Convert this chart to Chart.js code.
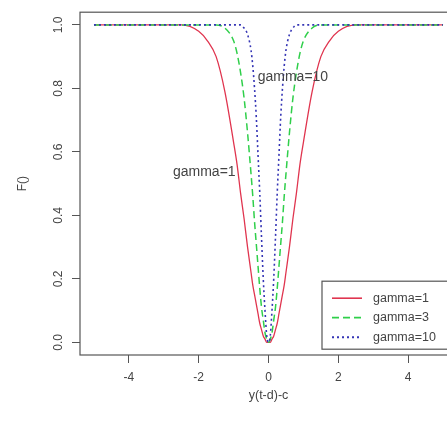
<!DOCTYPE html>
<html>
<head>
<meta charset="utf-8">
<script src="https://cdn.jsdelivr.net/npm/chart.js@4.4.0/dist/chart.umd.min.js"></script>
<style>
    html, body { margin: 0; padding: 0; background: #fff; overflow: hidden; }
    #wrap { position: relative; width: 470px; height: 427px; }
</style>
</head>
<body>
<div id="wrap"><canvas id="chart"></canvas></div>
<script>
// values
const xValues = [-5, -4, -3, -2.5, -2, -1.75, -1.5, -1.25, -1, -0.9, -0.8, -0.7, -0.6, -0.5, -0.45, -0.4, -0.35, -0.3, -0.25, -0.2, -0.15, -0.1, -0.05, 0,
                 0.05, 0.1, 0.15, 0.2, 0.25, 0.3, 0.35, 0.4, 0.45, 0.5, 0.6, 0.7, 0.8, 0.9, 1, 1.25, 1.5, 1.75, 2, 2.5, 3, 4, 5];
const gamma1  = [1, 1, 1, 1, 0.98, 0.95, 0.9, 0.79, 0.63, 0.56, 0.47, 0.39, 0.3, 0.22, 0.18, 0.15, 0.12, 0.09, 0.06, 0.04, 0.02, 0.01, 0, 0,
                 0, 0.01, 0.02, 0.04, 0.06, 0.09, 0.12, 0.15, 0.18, 0.22, 0.3, 0.39, 0.47, 0.56, 0.63, 0.79, 0.9, 0.95, 0.98, 1, 1, 1, 1];
const gamma3  = [1, 1, 1, 1, 1, 1, 1, 0.99, 0.95, 0.91, 0.85, 0.77, 0.66, 0.53, 0.46, 0.38, 0.31, 0.24, 0.17, 0.11, 0.07, 0.03, 0.01, 0,
                 0.01, 0.03, 0.07, 0.11, 0.17, 0.24, 0.31, 0.38, 0.46, 0.53, 0.66, 0.77, 0.85, 0.91, 0.95, 0.99, 1, 1, 1, 1, 1, 1, 1];
const gamma10 = [1, 1, 1, 1, 1, 1, 1, 1, 1, 1, 1, 0.99, 0.97, 0.92, 0.87, 0.8, 0.71, 0.59, 0.47, 0.33, 0.2, 0.1, 0.02, 0,
                 0.02, 0.1, 0.2, 0.33, 0.47, 0.59, 0.71, 0.8, 0.87, 0.92, 0.97, 0.99, 1, 1, 1, 1, 1, 1, 1, 1, 1, 1, 1];
const seriesLabels = ['gamma=1', 'gamma=3', 'gamma=10'];
const xTicks = [-4, -2, 0, 2, 4];
const yTicks = [0, 0.2, 0.4, 0.6, 0.8, 1.0];
const noteLabels = ['gamma=1', 'gamma=10'];
const noteX = [-1.84, 0.7];
const noteY = [0.535, 0.835];

const FONT = '"Liberation Sans", Arial, sans-serif';
const INK = '#444';

const toPoints = ys => xValues.map((x, i) => ({ x, y: ys[i] }));

// plot box, text notes and the legend box
const framePlugin = {
    id: 'frame',
    afterDatasetsDraw(chart) {
        const { ctx, chartArea: a, scales: { x, y } } = chart;
        ctx.save();
        ctx.strokeStyle = '#555';
        ctx.lineWidth = 1.2;
        ctx.strokeRect(a.left, a.top, a.right - a.left, a.bottom - a.top);

        ctx.fillStyle = INK;
        ctx.font = `14px ${FONT}`;
        ctx.textAlign = 'center';
        ctx.textBaseline = 'middle';
        noteLabels.forEach((t, i) => ctx.fillText(t, x.getPixelForValue(noteX[i]), y.getPixelForValue(noteY[i])));

        const bx = a.left + 242, by = a.top + 269, bw = 160, bh = 68;
        ctx.fillStyle = '#fff';
        ctx.fillRect(bx, by, bw, bh);
        ctx.strokeRect(bx, by, bw, bh);
        ctx.font = `12.5px ${FONT}`;
        chart.data.datasets.forEach((ds, i) => {
            const ry = by + 17 + i * 19.5;
            ctx.strokeStyle = ds.borderColor;
            ctx.lineWidth = ds.borderWidth + 0.3;
            ctx.setLineDash(ds.borderDash || []);
            ctx.beginPath();
            ctx.moveTo(bx + 10, ry);
            ctx.lineTo(bx + 40, ry);
            ctx.stroke();
            ctx.setLineDash([]);
            ctx.fillStyle = INK;
            ctx.textAlign = 'left';
            ctx.fillText(ds.label, bx + 51, ry);
        });
        ctx.restore();
    },
};

new Chart(document.getElementById('chart'), {
    type: 'line',
    data: {
        datasets: [
            { label: seriesLabels[0], data: toPoints(gamma1), borderColor: '#e0354f', borderWidth: 1.3, order: 3 },
            { label: seriesLabels[1], data: toPoints(gamma3), borderColor: '#2fcf4a', borderWidth: 1.5, borderDash: [7, 4], order: 2 },
            { label: seriesLabels[2], data: toPoints(gamma10), borderColor: '#3535b5', borderWidth: 1.6, borderDash: [2, 3], order: 1 },
        ],
    },
    options: {
        responsive: true,
        maintainAspectRatio: false,
        animation: false,
        layout: { padding: { top: 12, right: 13, left: 0, bottom: 0 } },
        elements: {
            point: { radius: 0 },
            line: { cubicInterpolationMode: 'monotone', fill: false },
        },
        plugins: { legend: { display: false }, tooltip: { enabled: false } },
        scales: {
            x: {
                type: 'linear',
                min: -5.4,
                max: 5.4,
                afterBuildTicks: s => { s.ticks = xTicks.map(v => ({ value: v })); },
                afterFit: s => { s.height = 72; },
                border: { display: false },
                grid: { drawOnChartArea: false, tickLength: 8, color: '#555' },
                ticks: { color: INK, font: { family: FONT, size: 12 }, padding: 7, callback: v => String(v) },
                title: { display: true, text: 'y(t-d)-c', color: INK, font: { family: FONT, size: 12.5 }, padding: { top: 0, bottom: 24 } },
            },
            y: {
                min: -0.04,
                max: 1.04,
                afterBuildTicks: s => { s.ticks = yTicks.map(v => ({ value: v })); },
                afterFit: s => { s.width = 80; },
                border: { display: false },
                grid: { drawOnChartArea: false, tickLength: 8, color: '#555' },
                ticks: { color: INK, font: { family: FONT, size: 12 }, padding: 5, minRotation: 90, maxRotation: 90, crossAlign: 'center', callback: v => v.toFixed(1) },
                title: { display: true, text: 'F()', color: INK, font: { family: FONT, size: 12 }, padding: { top: 15, bottom: 0 } },
            },
        },
    },
    plugins: [framePlugin],
});
</script>
</body>
</html>
